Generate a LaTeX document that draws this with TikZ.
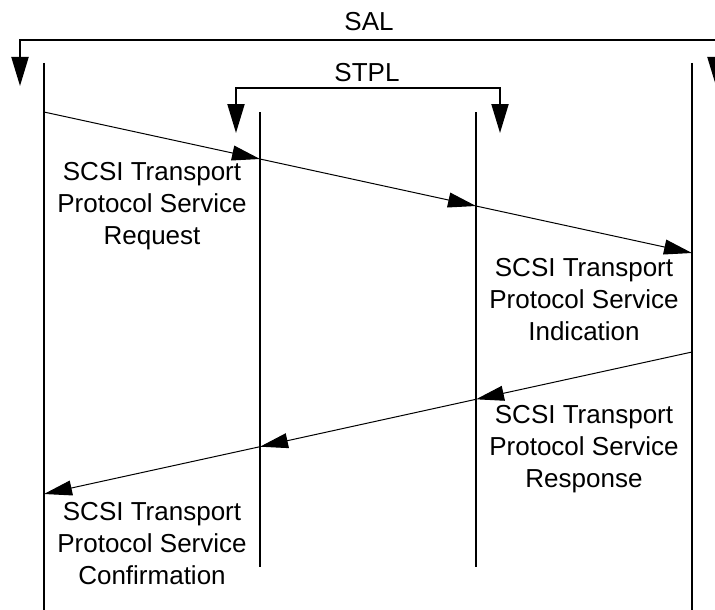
\documentclass[tikz,border=0pt]{standalone}
\usepackage{fontspec}
\setmainfont{Liberation Sans}
\usetikzlibrary{arrows.meta}
\begin{document}
\begin{tikzpicture}[x=1pt,y=-1pt,
  lifeline/.style={line width=2pt},
  msg/.style={line width=1pt,-{Triangle[length=28pt,width=15pt]}},
  bracket/.style={line width=2pt,{Triangle[length=29pt,width=17pt]}-{Triangle[length=29pt,width=17pt]}},
  lbl/.style={font=\fontsize{26}{32}\selectfont,align=center,inner sep=0pt}]
\useasboundingbox (0,0) rectangle (715,610);
% lifelines
\coordinate (A0) at (44,63);   \coordinate (A1) at (44,612);
\coordinate (B0) at (260,112); \coordinate (B1) at (260,567);
\coordinate (C0) at (476,112); \coordinate (C1) at (476,567);
\coordinate (D0) at (692,63);  \coordinate (D1) at (692,612);
\draw[lifeline] (A0) -- (A1);
\draw[lifeline] (B0) -- (B1);
\draw[lifeline] (C0) -- (C1);
\draw[lifeline] (D0) -- (D1);
% brackets
\node[lbl] (sal) at (369,22) {SAL};
\coordinate (salL) at (20,86);
\coordinate (salR) at (716,86);
\draw[bracket] (salL) -- ++(0,-46) -| (salR);
\node[lbl] (stpl) at (367,73) {STPL};
\coordinate (stL) at (236,133);
\coordinate (stR) at (500,133);
\draw[bracket] (stL) -- ++(0,-45) -| (stR);
% request / indication messages
\coordinate (a1) at (44,112);
\coordinate (b1) at (260,159);
\coordinate (c1) at (476,206);
\coordinate (d1) at (692,253);
\draw[msg] (a1) -- (b1);
\draw[msg] (b1) -- (c1);
\draw[msg] (c1) -- (d1);
% response / confirmation messages
\coordinate (d2) at (692,352);
\coordinate (c2) at (476,399.3);
\coordinate (b2) at (260,446.7);
\coordinate (a2) at (44,494);
\draw[msg] (d2) -- (c2);
\draw[msg] (c2) -- (b2);
\draw[msg] (b2) -- (a2);
% labels
\node[lbl] (req) at (152,206) {SCSI Transport\\Protocol Service\\Request};
\node[lbl] (ind) at (584,300) {SCSI Transport\\Protocol Service\\Indication};
\node[lbl] (rsp) at (584,449) {SCSI Transport\\Protocol Service\\Response};
\node[lbl] (cnf) at (152,544) {SCSI Transport\\Protocol Service\\Confirmation};
\end{tikzpicture}
\end{document}
